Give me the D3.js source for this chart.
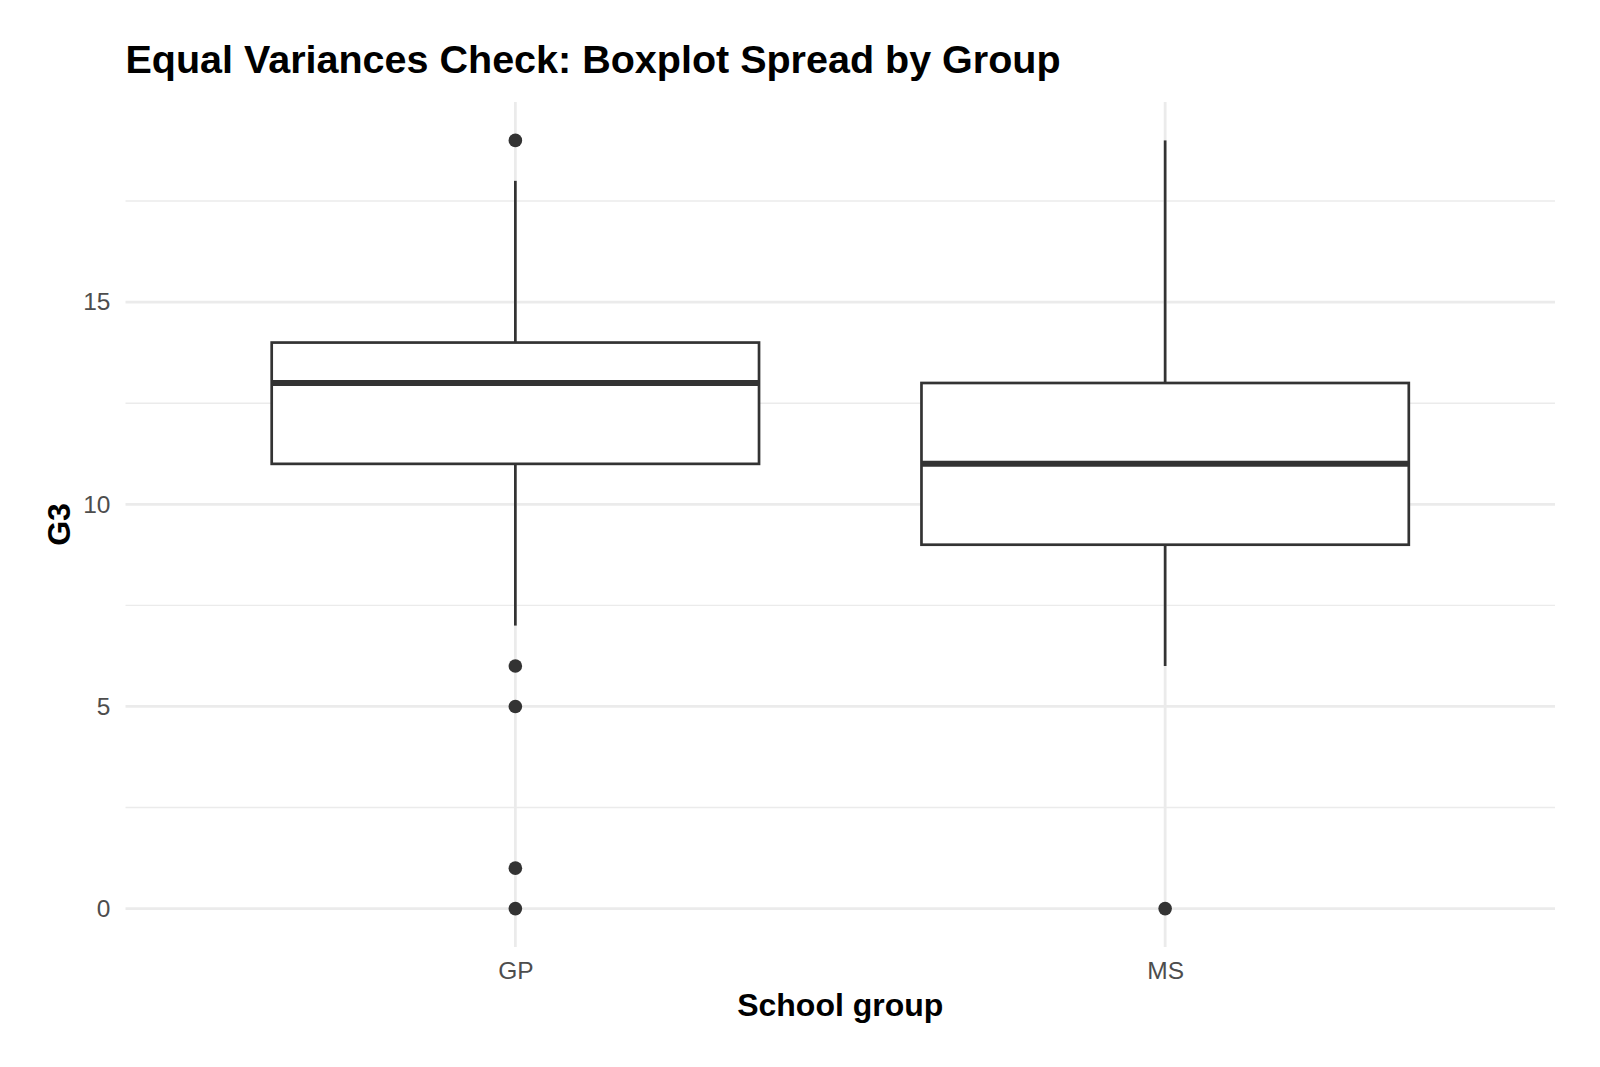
<!DOCTYPE html>
<html>
<head>
<meta charset="utf-8">
<script src="https://cdn.jsdelivr.net/npm/d3@7"></script>
<style>
  body { margin: 0; background: #fff; }
  text { font-family: "Liberation Sans", Arial, sans-serif; }
</style>
</head>
<body>
<svg id="chart" width="1600" height="1067"></svg>
<script>
// boxplot summary per school group
const groups = ["GP", "MS"];
const lowerWhisker = [7, 6];
const q1 = [11, 9];
const median = [13, 11];
const q3 = [14, 13];
const upperWhisker = [18, 19];
const outliers = [[19, 6, 5, 1, 0], [0]];
const yTicks = [0, 5, 10, 15];
const yMinor = [2.5, 7.5, 12.5, 17.5];

const width = 1600, height = 1067;
const margin = { top: 102, right: 45, bottom: 120, left: 125.5 };
const innerW = width - margin.left - margin.right;
const innerH = height - margin.top - margin.bottom;

const svg = d3.select("#chart");
const g = svg.append("g").attr("transform", `translate(${margin.left}, ${margin.top})`);

// continuous y with ggplot-like 5% padding
const yMin = 0, yMax = 19, pad = (yMax - yMin) * 0.05;
const y = d3.scaleLinear().domain([yMin - pad, yMax + pad]).range([innerH, 0]);

// discrete x, 0.6 unit padding on each side
const x = d3.scaleLinear().domain([0.4, groups.length + 0.6]).range([0, innerW]);
const boxWidth = x(1.75) - x(1);

// minor grid
g.selectAll(".minor")
  .data(yMinor)
  .enter()
  .append("line")
  .attr("x1", 0).attr("x2", innerW)
  .attr("y1", (d) => y(d)).attr("y2", (d) => y(d))
  .style("stroke", "#ebebeb")
  .style("stroke-width", 1.4);

// major grid
g.selectAll(".major")
  .data(yTicks)
  .enter()
  .append("line")
  .attr("x1", 0).attr("x2", innerW)
  .attr("y1", (d) => y(d)).attr("y2", (d) => y(d))
  .style("stroke", "#ebebeb")
  .style("stroke-width", 2.8);

g.selectAll(".vgrid")
  .data(groups)
  .enter()
  .append("line")
  .attr("x1", (d, i) => x(i + 1)).attr("x2", (d, i) => x(i + 1))
  .attr("y1", 0).attr("y2", innerH)
  .style("stroke", "#ebebeb")
  .style("stroke-width", 2.8);

// y axis labels
const yAxis = g.append("g")
  .attr("transform", "translate(-15, 0)")
  .call(d3.axisLeft(y).tickValues(yTicks).tickSize(0).tickPadding(0));
yAxis.select(".domain").remove();
yAxis.selectAll("text")
  .style("font-size", "24.5px")
  .style("fill", "#4d4d4d")
  .style("font-family", "Liberation Sans, Arial, sans-serif");

// x axis labels
const xAxis = g.append("g")
  .attr("transform", `translate(0, ${innerH})`)
  .call(d3.axisBottom(x).tickValues(groups.map((d, i) => i + 1)).tickFormat((d) => groups[d - 1]).tickSize(0).tickPadding(0));
xAxis.select(".domain").remove();
xAxis.selectAll("text")
  .attr("dy", null)
  .attr("y", 32)
  .style("font-size", "24.5px")
  .style("fill", "#4d4d4d")
  .style("font-family", "Liberation Sans, Arial, sans-serif");

// boxes
const boxes = g.selectAll(".box")
  .data(groups)
  .enter()
  .append("g")
  .attr("class", "box");

boxes.append("line")
  .attr("x1", (d, i) => x(i + 1)).attr("x2", (d, i) => x(i + 1))
  .attr("y1", (d, i) => y(upperWhisker[i])).attr("y2", (d, i) => y(q3[i]))
  .style("stroke", "#333333").style("stroke-width", 2.7);

boxes.append("line")
  .attr("x1", (d, i) => x(i + 1)).attr("x2", (d, i) => x(i + 1))
  .attr("y1", (d, i) => y(q1[i])).attr("y2", (d, i) => y(lowerWhisker[i]))
  .style("stroke", "#333333").style("stroke-width", 2.7);

boxes.append("rect")
  .attr("x", (d, i) => x(i + 1) - boxWidth / 2)
  .attr("width", boxWidth)
  .attr("y", (d, i) => y(q3[i]))
  .attr("height", (d, i) => y(q1[i]) - y(q3[i]))
  .style("fill", "#fff")
  .style("stroke", "#333333")
  .style("stroke-width", 2.7);

boxes.append("line")
  .attr("x1", (d, i) => x(i + 1) - boxWidth / 2).attr("x2", (d, i) => x(i + 1) + boxWidth / 2)
  .attr("y1", (d, i) => y(median[i])).attr("y2", (d, i) => y(median[i]))
  .style("stroke", "#333333").style("stroke-width", 6);

// outlier points
const pts = [];
outliers.forEach((arr, i) => arr.forEach((v) => pts.push({ i, v })));
g.selectAll(".outlier")
  .data(pts)
  .enter()
  .append("circle")
  .attr("cx", (d) => x(d.i + 1))
  .attr("cy", (d) => y(d.v))
  .attr("r", 6.8)
  .style("fill", "#333333");

// title and axis titles
svg.append("text")
  .attr("x", 125.5).attr("y", 72.7)
  .style("font-size", "39.5px")
  .style("font-weight", "bold")
  .style("fill", "#000")
  .text("Equal Variances Check: Boxplot Spread by Group");

svg.append("text")
  .attr("x", margin.left + innerW / 2).attr("y", 1015.5)
  .attr("text-anchor", "middle")
  .style("font-size", "32px")
  .style("font-weight", "bold")
  .style("fill", "#000")
  .text("School group");

svg.append("text")
  .attr("transform", `translate(70, ${margin.top + innerH / 2}) rotate(-90)`)
  .attr("text-anchor", "middle")
  .style("font-size", "32px")
  .style("font-weight", "bold")
  .style("fill", "#000")
  .text("G3");
</script>
</body>
</html>
